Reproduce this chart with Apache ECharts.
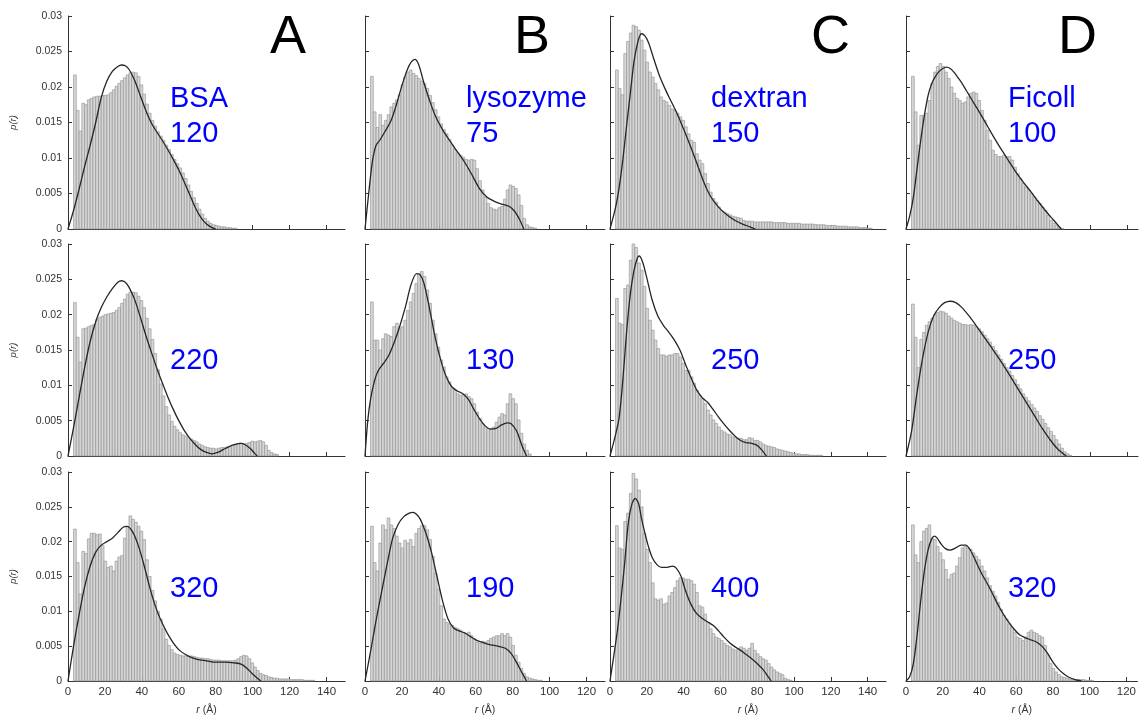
<!DOCTYPE html>
<html>
<head>
<meta charset="utf-8">
<title>p(r) histograms</title>
<script src="https://cdn.jsdelivr.net/npm/echarts@6/dist/echarts.min.js"></script>
<style>
html, body { margin: 0; padding: 0; background: #fff; }
#app { width: 1139px; height: 717px; }
</style>
</head>
<body>
<div id="app"></div>
<script>
// histogram bins: first bin starts at 3 A, each bin 1.5 A wide
var BIN_START = 3;
var BIN_WIDTH = 1.5;

var panelLetters = ['A', 'B', 'C', 'D'];
var sampleNames = ['BSA', 'lysozyme', 'dextran', 'Ficoll'];
var concentrations = [['120', '220', '320'], ['75', '130', '190'], ['150', '250', '400'], ['100', '250', '320']];
var xMax = [150, 130, 150, 126];
var xTicks = [
  [0, 20, 40, 60, 80, 100, 120, 140],
  [0, 20, 40, 60, 80, 100, 120],
  [0, 20, 40, 60, 80, 100, 120, 140],
  [0, 20, 40, 60, 80, 100, 120]
];
var yTicks = [0, 0.005, 0.01, 0.015, 0.02, 0.025, 0.03];

// ---- column A : BSA ----
var histA1 = [0.0217,0.0167,0.0138,0.0177,0.0175,0.0182,0.0184,0.0186,0.0187,0.0187,0.0188,0.0188,0.0189,0.0192,0.0196,0.0201,0.0205,0.0209,0.0213,0.0217,0.0220,0.0221,0.0220,0.0215,0.0203,0.0190,0.0176,0.0163,0.0153,0.0145,0.0137,0.0131,0.0125,0.0118,0.0112,0.0105,0.0098,0.0092,0.0086,0.0079,0.0071,0.0062,0.0053,0.0044,0.0036,0.0028,0.0021,0.0015,0.0011,0.0008,0.0006,0.0005,0.0004,0.0003,0.0003,0.0002,0.0002,0.0001,0.0001];
var curveA1 = [[0,0],[3,0.0026],[6,0.0056],[9,0.0088],[12,0.0118],[15,0.015],[18,0.0185],[21,0.0208],[24,0.0222],[27,0.0229],[29,0.0231],[31,0.023],[33,0.0225],[36,0.021],[39,0.0189],[42,0.0168],[45,0.015],[48,0.0137],[51,0.0125],[54,0.0112],[57,0.0098],[60,0.0083],[63,0.0066],[66,0.0048],[69,0.003],[72,0.0016],[75,0.0007],[78,0.0002],[80,0]];

var histA2 = [0.0217,0.0168,0.0133,0.018,0.0181,0.0183,0.0185,0.0186,0.0193,0.0196,0.0198,0.02,0.0201,0.0202,0.0203,0.0206,0.021,0.0216,0.0222,0.0229,0.0232,0.0232,0.0231,0.0226,0.022,0.021,0.0195,0.018,0.0165,0.0145,0.0122,0.0102,0.0085,0.007,0.0058,0.0049,0.0042,0.0037,0.0033,0.003,0.0028,0.0026,0.0024,0.0022,0.002,0.0017,0.0015,0.0013,0.0012,0.0011,0.0011,0.001,0.0011,0.0012,0.0012,0.0013,0.0014,0.0016,0.0017,0.0018,0.0018,0.0017,0.0018,0.0019,0.0021,0.002,0.0021,0.0022,0.002,0.0015,0.0008,0.0005,0.0003,0.0002];
var curveA2 = [[0,0],[3,0.004],[6,0.0083],[9,0.0125],[12,0.0162],[15,0.019],[18,0.021],[21,0.0225],[24,0.0237],[27,0.0246],[29,0.0248],[31,0.0246],[33,0.0239],[36,0.0222],[39,0.0198],[42,0.0172],[45,0.0148],[48,0.0125],[51,0.0104],[54,0.0084],[57,0.0066],[60,0.005],[63,0.0036],[66,0.0025],[69,0.0016],[72,0.0009],[75,0.0005],[78,0.0003],[81,0.0005],[84,0.0009],[87,0.0013],[90,0.0016],[93.5,0.0018],[96,0.0016],[99,0.001],[101,0.0004],[102.5,0]];

var histA3 = [0.0218,0.017,0.0125,0.0186,0.0183,0.0204,0.0212,0.0212,0.021,0.0211,0.0195,0.0172,0.0163,0.0165,0.0158,0.0172,0.0178,0.018,0.0205,0.0222,0.0237,0.0232,0.0228,0.0222,0.0215,0.0203,0.0174,0.015,0.013,0.0115,0.01,0.0089,0.0075,0.006,0.0051,0.0045,0.004,0.0038,0.0037,0.0036,0.0036,0.0035,0.0036,0.0035,0.0034,0.0033,0.0033,0.0032,0.0032,0.0031,0.003,0.003,0.003,0.0029,0.0029,0.0029,0.0029,0.0029,0.003,0.0032,0.0035,0.0037,0.0036,0.0032,0.0026,0.002,0.0015,0.0011,0.0009,0.0008,0.0006,0.0005,0.0004,0.0004,0.0003,0.0003,0.0003,0.0003,0.0002,0.0002,0.0002,0.0002,0.0002,0.0001,0.0001,0.0001,0.0001];
var curveA3 = [[0,0],[3,0.005],[6,0.0095],[9,0.0135],[12,0.0165],[15,0.0185],[18,0.0195],[21,0.02],[24,0.0205],[27,0.0213],[30,0.0221],[32,0.0222],[35,0.0214],[38,0.0195],[41,0.0168],[44,0.0137],[47,0.011],[50,0.0089],[55,0.0063],[60,0.0045],[65,0.0036],[70,0.0031],[75,0.0029],[80,0.0027],[85,0.0027],[90,0.0026],[94,0.0024],[97,0.0018],[100,0.001],[103,0.0003],[104.5,0]];

// ---- column B : lysozyme ----
var histB1 = [0.0215,0.0165,0.0143,0.0161,0.0146,0.0153,0.0161,0.0172,0.0177,0.0182,0.0189,0.0203,0.0214,0.0221,0.0224,0.0219,0.0216,0.0212,0.0208,0.0205,0.0198,0.0188,0.0178,0.0168,0.0158,0.0148,0.014,0.0134,0.0126,0.0118,0.0112,0.0107,0.0104,0.0101,0.0098,0.0097,0.0098,0.0097,0.0085,0.0068,0.0055,0.0045,0.0036,0.003,0.0028,0.0027,0.003,0.0032,0.0042,0.0055,0.0062,0.006,0.0057,0.0048,0.0033,0.0015,0.0006,0.0003,0.0002,0.0001];
var curveB1 = [[0,0],[2,0.005],[4,0.0095],[6,0.0118],[8,0.0125],[11,0.0138],[14,0.0152],[17,0.0175],[20,0.0202],[23,0.0225],[25,0.0235],[27,0.0239],[29,0.0232],[32,0.0205],[35,0.0181],[38,0.016],[42,0.014],[46,0.0124],[50,0.0109],[54,0.0094],[58,0.0076],[62,0.0057],[66,0.0045],[70,0.0039],[74,0.0035],[78,0.0032],[81,0.0025],[84,0.0012],[86,0]];

var histB2 = [0.0218,0.0164,0.0164,0.015,0.0166,0.0173,0.0171,0.0169,0.0183,0.0188,0.0181,0.0183,0.0192,0.0206,0.0218,0.023,0.0244,0.0258,0.0261,0.0254,0.0235,0.0216,0.0192,0.0173,0.0154,0.0136,0.0126,0.0112,0.0105,0.0095,0.0093,0.0088,0.0086,0.0087,0.0088,0.0084,0.0081,0.0074,0.0062,0.0053,0.0046,0.0041,0.0039,0.0039,0.0041,0.0048,0.0055,0.006,0.0058,0.0074,0.0088,0.0081,0.0074,0.0051,0.0032,0.0017,0.0008,0.0003];
var curveB2 = [[0,0],[1.5,0.005],[3,0.008],[5,0.0105],[7,0.012],[10,0.0131],[13,0.0143],[16,0.0162],[19,0.0185],[22,0.0212],[25,0.0243],[28,0.0258],[30,0.0256],[32,0.0244],[35,0.0208],[38,0.0168],[41,0.0136],[44,0.0112],[47,0.0098],[50,0.0092],[53,0.0088],[56,0.008],[59,0.0066],[62,0.0053],[65,0.0043],[68,0.0038],[71,0.0039],[74,0.0044],[77,0.0047],[79,0.0046],[82,0.0036],[85,0.0015],[87.5,0]];

var histB3 = [0.0222,0.017,0.0158,0.0198,0.0224,0.0217,0.0234,0.0224,0.0219,0.0208,0.0198,0.0191,0.0202,0.0198,0.0203,0.0193,0.0212,0.0219,0.0223,0.0223,0.0217,0.0203,0.0179,0.0155,0.0132,0.0108,0.0089,0.0084,0.0082,0.008,0.0077,0.0075,0.0073,0.007,0.0068,0.007,0.0065,0.0061,0.0056,0.0054,0.0057,0.0056,0.0058,0.0061,0.0063,0.0065,0.0065,0.0068,0.0065,0.0068,0.0063,0.0051,0.0037,0.0027,0.0018,0.0011,0.0006,0.0004,0.0003,0.0002,0.0001,0.0001];
var curveB3 = [[0,0],[3,0.0042],[6,0.0087],[9,0.0128],[12,0.0168],[15,0.0205],[18,0.0225],[21,0.0236],[24,0.0241],[26,0.0242],[28,0.0239],[30,0.0232],[33,0.0212],[36,0.0185],[39,0.015],[42,0.0115],[45,0.0089],[48,0.0076],[51,0.0072],[54,0.0069],[57,0.0064],[60,0.0059],[64,0.0055],[68,0.0052],[72,0.005],[76,0.0047],[79,0.004],[82,0.0027],[85,0.0012],[87.5,0]];

// ---- column C : dextran ----
var histC1 = [0.0224,0.0198,0.0189,0.0247,0.0264,0.0276,0.0287,0.0285,0.028,0.0266,0.0252,0.0235,0.0221,0.0214,0.0205,0.0196,0.0186,0.0181,0.0179,0.0174,0.0169,0.0167,0.0163,0.0158,0.0153,0.0144,0.0134,0.0125,0.0122,0.0106,0.0097,0.0092,0.0078,0.0064,0.0052,0.0043,0.0038,0.0031,0.0026,0.0024,0.0022,0.002,0.0018,0.0017,0.0016,0.0015,0.0012,0.0011,0.0011,0.0011,0.001,0.001,0.001,0.001,0.001,0.001,0.001,0.0009,0.0009,0.0009,0.0009,0.0009,0.0008,0.0008,0.0008,0.0008,0.0008,0.0007,0.0007,0.0007,0.0007,0.0007,0.0006,0.0006,0.0006,0.0006,0.0005,0.0005,0.0005,0.0005,0.0004,0.0004,0.0004,0.0004,0.0003,0.0003,0.0003,0.0003,0.0002,0.0002,0.0002,0.0001,0.0001];
var curveC1 = [[0,0],[3,0.003],[5,0.0059],[7,0.0098],[9,0.0145],[11,0.019],[13,0.0235],[15,0.0262],[17,0.0275],[19,0.0272],[21,0.0262],[24,0.0238],[27,0.0215],[30,0.0197],[33,0.0181],[36,0.0165],[39,0.0147],[42,0.0128],[45,0.0108],[48,0.0087],[51,0.0066],[54,0.0049],[57,0.0037],[60,0.0028],[64,0.0019],[68,0.0012],[72,0.0007],[76,0.0003],[79,0]];

var histC2 = [0.0223,0.0188,0.0186,0.0237,0.0242,0.0277,0.03,0.0295,0.0273,0.0263,0.024,0.0209,0.0192,0.0178,0.0164,0.0152,0.0143,0.0143,0.0141,0.0143,0.0143,0.0145,0.0145,0.014,0.0131,0.0121,0.0121,0.0112,0.0103,0.0093,0.0086,0.0081,0.0074,0.0065,0.0058,0.0051,0.0046,0.0041,0.0036,0.0034,0.0031,0.003,0.0027,0.0026,0.0025,0.0025,0.0023,0.0023,0.0026,0.0025,0.0022,0.0022,0.002,0.0017,0.0015,0.0014,0.0013,0.0012,0.001,0.0009,0.0008,0.0007,0.0006,0.0005,0.0004,0.0003,0.0003,0.0002,0.0002,0.0002,0.0001,0.0001,0.0001,0.0001,0.0001];
var curveC2 = [[0,0],[3,0.003],[5,0.0055],[7,0.0108],[9,0.0175],[11,0.0228],[13,0.0262],[15,0.0281],[16,0.0283],[18,0.0272],[20,0.0252],[23,0.022],[26,0.0198],[29,0.0185],[32,0.0175],[35,0.0164],[38,0.015],[41,0.013],[44,0.0111],[47,0.0094],[50,0.0083],[53,0.0076],[56,0.0066],[59,0.0055],[62,0.0045],[65,0.0036],[68,0.0028],[71,0.0022],[74,0.0019],[77,0.0018],[80,0.0015],[83,0.0007],[85,0]];

var histC3 = [0.0223,0.0191,0.0189,0.0229,0.0241,0.0269,0.0298,0.029,0.0274,0.025,0.0212,0.0189,0.017,0.0141,0.0118,0.0116,0.0118,0.011,0.0112,0.0122,0.0127,0.0134,0.0144,0.0148,0.0148,0.0146,0.0146,0.0144,0.0139,0.0127,0.0108,0.0106,0.0096,0.0084,0.0075,0.0068,0.0063,0.0061,0.0058,0.0054,0.0051,0.0049,0.0046,0.0044,0.0046,0.0049,0.0047,0.0044,0.0047,0.0054,0.0044,0.0039,0.0035,0.0032,0.003,0.0025,0.002,0.0016,0.0013,0.0011,0.0009,0.0004,0.0002,0.0001];
var curveC3 = [[0,0],[2,0.0035],[4,0.0072],[6,0.0118],[8,0.017],[10,0.0228],[12,0.0255],[13.7,0.0262],[15.5,0.0255],[17,0.0235],[19,0.0212],[21,0.0192],[23,0.0177],[25.5,0.0167],[28,0.0163],[31,0.0163],[34,0.0165],[36,0.0162],[38.5,0.0151],[41,0.013],[44,0.011],[47,0.0097],[50,0.009],[53,0.0085],[56,0.008],[59,0.0072],[62,0.0063],[65,0.0055],[68,0.0049],[71,0.0044],[74,0.0038],[77,0.0032],[80,0.0025],[83,0.0017],[86,0.0006],[87.6,0]];

// ---- column D : Ficoll ----
var histD1 = [0.0215,0.0165,0.0118,0.016,0.016,0.0163,0.0181,0.0205,0.0221,0.0229,0.0233,0.0229,0.0221,0.0212,0.02,0.0191,0.0184,0.0181,0.0177,0.0179,0.0186,0.0191,0.0193,0.0191,0.0181,0.0167,0.0153,0.0139,0.0125,0.0111,0.0105,0.0102,0.0102,0.0104,0.0102,0.0102,0.0097,0.0087,0.0078,0.0071,0.0064,0.0059,0.0055,0.005,0.0045,0.004,0.0036,0.0031,0.0026,0.0019,0.0012,0.0008,0.0005,0.0002,0.0001];
var curveD1 = [[0,0],[2,0.0018],[4,0.0045],[6,0.0085],[8,0.0125],[10,0.016],[12,0.0188],[14,0.0205],[16,0.0215],[18,0.0222],[20,0.0226],[22,0.0228],[24,0.0226],[26,0.0221],[28,0.0214],[30,0.0207],[33,0.0194],[36,0.0181],[40,0.0164],[44,0.0146],[48,0.0128],[52,0.0111],[56,0.0095],[60,0.0079],[64,0.0065],[68,0.0052],[72,0.0038],[76,0.0025],[80,0.0013],[84.3,0]];

var histD2 = [0.0215,0.0168,0.0125,0.0165,0.0175,0.0185,0.019,0.0195,0.02,0.0203,0.0205,0.0204,0.0202,0.0198,0.0195,0.0192,0.019,0.0188,0.0186,0.0186,0.0185,0.0186,0.0185,0.0183,0.018,0.0176,0.0171,0.0166,0.0161,0.0155,0.0149,0.0143,0.0137,0.0131,0.0125,0.012,0.0114,0.0108,0.0101,0.0095,0.0088,0.0083,0.0078,0.0073,0.0068,0.0063,0.0057,0.0052,0.0046,0.004,0.0035,0.0029,0.0023,0.0017,0.0011,0.0006,0.0003,0.0001];
var curveD2 = [[0,0],[3,0.0035],[6,0.009],[9,0.0138],[12,0.0175],[15,0.0198],[18,0.021],[21,0.0217],[24,0.0219],[27,0.0217],[30,0.0211],[34,0.0199],[38,0.0185],[42,0.017],[46,0.0155],[50,0.014],[54,0.0124],[58,0.0107],[62,0.009],[66,0.0073],[70,0.0056],[74,0.0039],[78,0.0024],[82,0.0011],[87,0]];

var histD3 = [0.0224,0.0181,0.017,0.02,0.0215,0.0219,0.0224,0.0205,0.0203,0.0193,0.0184,0.0174,0.016,0.0146,0.0153,0.0155,0.0165,0.0177,0.0191,0.0193,0.0191,0.0189,0.0184,0.0179,0.0174,0.0165,0.0158,0.0148,0.0137,0.0129,0.0122,0.0113,0.0103,0.0094,0.0089,0.0082,0.0077,0.007,0.0063,0.0061,0.0058,0.0063,0.007,0.0073,0.007,0.0068,0.0065,0.0063,0.0051,0.0037,0.0025,0.0018,0.0013,0.0009,0.0006,0.0005,0.0004,0.0003,0.0003,0.0002,0.0002,0.0002,0.0002,0.0001,0.0001,0.0001];
var curveD3 = [[0,0],[2,0.0006],[4,0.0025],[6,0.0065],[8,0.0115],[10,0.0158],[12,0.0188],[14,0.0204],[15.5,0.0208],[17,0.0205],[19,0.0197],[21.5,0.019],[24,0.0188],[27,0.0191],[30,0.0195],[32.5,0.0195],[35,0.0188],[38,0.0172],[41,0.0155],[44,0.0141],[47,0.0126],[50,0.011],[53,0.0096],[56,0.0084],[59,0.0074],[62,0.0066],[65,0.0062],[68,0.0059],[71,0.0056],[74,0.005],[77,0.004],[80,0.0027],[83,0.0017],[86,0.001],[89,0.0005],[92,0.0002],[95.5,0]];

var hists = [[histA1, histA2, histA3], [histB1, histB2, histB3], [histC1, histC2, histC3], [histD1, histD2, histD3]];
var curves = [[curveA1, curveA2, curveA3], [curveB1, curveB2, curveB3], [curveC1, curveC2, curveC3], [curveD1, curveD2, curveD3]];

// layout (pixels)
var colLeft = [68, 365, 610, 906];
var colWidth = [277, 240, 276, 232];
var rowTop = [16, 244, 472];
var rowHeight = [213, 212, 211];
var FONT = '"Liberation Sans", Arial, Helvetica, sans-serif';

function renderBin(params, api) {
  var topLeft = api.coord([api.value(0), api.value(2)]);
  var bottomRight = api.coord([api.value(1), 0]);
  return {
    type: 'rect',
    shape: { x: topLeft[0], y: topLeft[1], width: bottomRight[0] - topLeft[0], height: bottomRight[1] - topLeft[1] },
    style: { fill: '#d6d6d6', stroke: '#8e8e8e', lineWidth: 0.6 }
  };
}

var chart = echarts.init(document.getElementById('app'), null, { renderer: 'canvas' });
var grid = [], xAxis = [], yAxis = [], series = [], graphic = [];

for (var c = 0; c < 4; c++) {
  for (var r = 0; r < 3; r++) {
    var gi = grid.length;
    var bottomRow = r === 2, leftCol = c === 0;
    grid.push({ left: colLeft[c], top: rowTop[r], width: colWidth[c], height: rowHeight[r] });
    xAxis.push({
      type: 'value', gridIndex: gi, min: 0, max: xMax[c],
      name: bottomRow ? '{i|r} (\u00c5)' : '', nameLocation: 'middle', nameGap: 24,
      nameTextStyle: { fontFamily: FONT, fontSize: 10.5, color: '#333', rich: { i: { fontStyle: 'italic', fontFamily: FONT, fontSize: 10.5, color: '#333' } } },
      axisLine: { show: true, onZero: false, lineStyle: { color: '#333', width: 1 } },
      axisTick: { show: true, inside: true, length: 4, customValues: xTicks[c], lineStyle: { color: '#333' } },
      axisLabel: { show: bottomRow, customValues: xTicks[c], margin: 5, fontFamily: FONT, fontSize: 11.5, color: '#333' },
      splitLine: { show: false }
    });
    yAxis.push({
      type: 'value', gridIndex: gi, min: 0, max: 0.03, interval: 0.005,
      name: leftCol ? 'p(r)' : '', nameLocation: 'middle', nameGap: 50, nameRotate: 90,
      nameTextStyle: { fontFamily: FONT, fontSize: 9.5, fontStyle: 'italic', color: '#333' },
      axisLine: { show: true, lineStyle: { color: '#333', width: 1 } },
      axisTick: { show: true, inside: true, length: 4, lineStyle: { color: '#333' } },
      axisLabel: {
        show: leftCol, margin: 6, fontFamily: FONT, fontSize: 10.5, color: '#333',
        formatter: function (v) { return v === 0 ? '0' : String(+v.toFixed(3)); }
      },
      splitLine: { show: false }
    });
    var bins = hists[c][r].map(function (v, i) {
      return [BIN_START + i * BIN_WIDTH, BIN_START + (i + 1) * BIN_WIDTH, v];
    });
    series.push({
      type: 'custom', xAxisIndex: gi, yAxisIndex: gi, renderItem: renderBin,
      encode: { x: [0, 1], y: 2 }, data: bins, silent: true, z: 2
    });
    series.push({
      type: 'line', xAxisIndex: gi, yAxisIndex: gi, data: curves[c][r],
      smooth: 0.3, showSymbol: false, symbol: 'none', silent: true, z: 3,
      lineStyle: { color: '#262626', width: 1.3 }
    });
    // blue labels
    var lx = [170, 466, 711, 1008][c];
    if (r === 0) {
      graphic.push({ type: 'text', x: lx, y: 99, style: { text: sampleNames[c], fill: '#0000ff', font: '29px ' + FONT, align: 'left', verticalAlign: 'middle', textAlign: 'left', textVerticalAlign: 'middle' } });
      graphic.push({ type: 'text', x: lx, y: 134, style: { text: concentrations[c][r], fill: '#0000ff', font: '29px ' + FONT, align: 'left', verticalAlign: 'middle', textAlign: 'left', textVerticalAlign: 'middle' } });
    } else {
      graphic.push({ type: 'text', x: lx, y: [0, 361, 589][r], style: { text: concentrations[c][r], fill: '#0000ff', font: '29px ' + FONT, align: 'left', verticalAlign: 'middle', textAlign: 'left', textVerticalAlign: 'middle' } });
    }
  }
  graphic.push({ type: 'text', x: [270, 514, 811, 1058][c], y: 38, style: { text: panelLetters[c], fill: '#000', font: '54px ' + FONT, align: 'left', verticalAlign: 'middle', textAlign: 'left', textVerticalAlign: 'middle' } });
}

chart.setOption({
  animation: false,
  backgroundColor: '#fff',
  grid: grid,
  xAxis: xAxis,
  yAxis: yAxis,
  series: series,
  graphic: graphic
});
addEventListener('resize', function () { chart.resize(); });
</script>
</body>
</html>
